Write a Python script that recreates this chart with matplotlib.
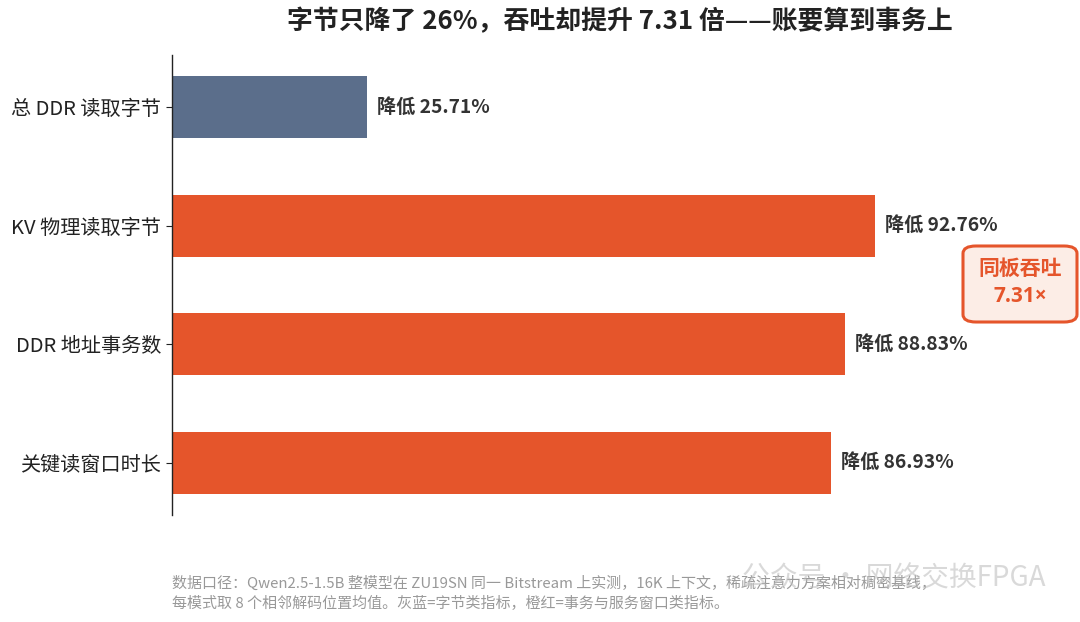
import matplotlib
matplotlib.use("Agg")
import matplotlib.pyplot as plt
from matplotlib.patches import FancyBboxPatch

plt.rcParams['font.family'] = ['Noto Sans CJK SC', 'DejaVu Sans']

categories = ["总 DDR 读取字节", "KV 物理读取字节", "DDR 地址事务数", "关键读窗口时长"]
values = [25.71, 92.76, 88.83, 86.93]
kinds = ["byte", "txn", "txn", "txn"]
title = "字节只降了 26%，吞吐却提升 7.31 倍——账要算到事务上"
badge_lines = ["同板吞吐", "7.31×"]
note_lines = [
    "数据口径：Qwen2.5-1.5B 整模型在 ZU19SN 同一 Bitstream 上实测，16K 上下文，稀疏注意力方案相对稠密基线，",
    "每模式取 8 个相邻解码位置均值。灰蓝=字节类指标，橙红=事务与服务窗口类指标。",
]
watermark = "公众号 · 网络交换FPGA"

color_map = {"byte": "#5B6E8B", "txn": "#E5552B"}
W, H = 1080, 622
fig = plt.figure(figsize=(W / 100, H / 100), dpi=100)
ax = fig.add_axes([172 / W, 1 - 515 / H, (1068 - 172) / W, (515 - 55) / H])

ypos = list(range(len(categories)))
ax.barh(ypos, values, height=0.52, color=[color_map[k] for k in kinds])
ax.set_yticks(ypos)
ax.set_yticklabels(categories, fontsize=14.5, color="#222222")
ax.set_ylim(len(categories) - 1 + 0.44, -0.44)
ax.set_xlim(0, 118.2)
ax.set_xticks([])
for s in ["top", "right", "bottom"]:
    ax.spines[s].set_visible(False)
ax.spines["left"].set_color("#222222")
ax.spines["left"].set_linewidth(1.0)
ax.tick_params(axis="y", length=4, width=0.8, color="#222222", pad=4)

for y, v in zip(ypos, values):
    ax.text(v + 1.3, y, f"降低 {v:.2f}%", va="center", ha="left",
            fontsize=13.8, fontweight="bold", color="#333333")

fig.text(620 / W, 1 - 22 / H, title, ha="center", va="center",
         fontsize=18.6, fontweight="bold", color="#222222")

# badge
bx0, by0, bx1, by1 = 963 / W, 1 - 322 / H, 1077 / W, 1 - 246 / H
badge = FancyBboxPatch((bx0, by0), bx1 - bx0, by1 - by0,
                       boxstyle="round,pad=0,rounding_size=0.012",
                       transform=fig.transFigure, facecolor="#FCEDE6",
                       edgecolor="#E5552B", linewidth=2.2, zorder=5)
fig.patches.append(badge)
fig.text(1020 / W, 1 - 268 / H, badge_lines[0], ha="center", va="center",
         fontsize=15, fontweight="bold", color="#E5552B", zorder=6)
fig.text(1020 / W, 1 - 297 / H, badge_lines[1], ha="center", va="center",
         fontsize=15, fontweight="bold", color="#E5552B", zorder=6,
         family=["Open Sans", "DejaVu Sans"])

fig.text(172 / W, 1 - 583 / H, note_lines[0], ha="left", va="center",
         fontsize=10.8, color="#999999")
fig.text(172 / W, 1 - 603 / H, note_lines[1], ha="left", va="center",
         fontsize=10.8, color="#999999")

fig.text(1046 / W, 1 - 578 / H, watermark, ha="right", va="center",
         fontsize=20, color="#BBBBBB", alpha=0.55)

fig.savefig("out.png", dpi=100, facecolor="white")
